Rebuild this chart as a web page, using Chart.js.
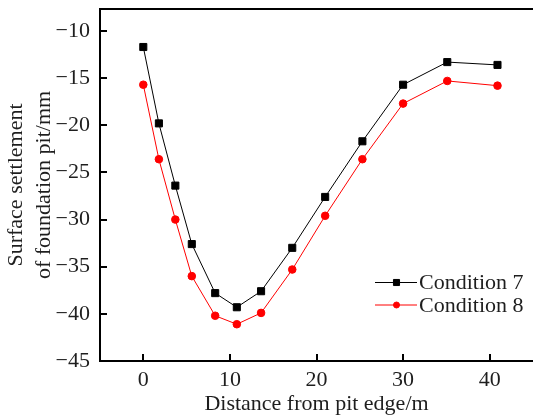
<!DOCTYPE html>
<html>
<head>
<meta charset="utf-8">
<script src="https://cdn.jsdelivr.net/npm/chart.js@4/dist/chart.umd.min.js"></script>
<style>
html,body{margin:0;padding:0;background:#fff;}
#c{display:block;}
</style>
</head>
<body>
<canvas id="c" width="533" height="417"></canvas>
<script>
const distance = [0, 1.8, 3.7, 5.6, 8.3, 10.8, 13.6, 17.2, 21.0, 25.3, 30.0, 35.1, 40.9];
const condition7 = [-11.7, -19.8, -26.4, -32.6, -37.8, -39.3, -37.6, -33.0, -27.6, -21.7, -15.7, -13.3, -13.6];
const condition8 = [-15.7, -23.6, -30.0, -36.0, -40.2, -41.1, -39.9, -35.3, -29.6, -23.6, -17.7, -15.3, -15.8];
const seriesLabels = ['Condition 7', 'Condition 8'];
const xTicks = [0, 10, 20, 30, 40];
const yTicks = [-45, -40, -35, -30, -25, -20, -15, -10];
const xTitle = 'Distance from pit edge/m';
const yTitle = ['Surface settlement', 'of foundation pit/mm'];

const FONT = 'Liberation Serif, Times New Roman, serif';

const framePlugin = {
  id: 'frame',
  afterDraw(chart) {
    const ctx = chart.ctx;
    const a = chart.chartArea;
    const xs = chart.scales.x, ys = chart.scales.y;
    ctx.save();
    ctx.strokeStyle = '#000';
    ctx.lineWidth = 2;
    ctx.beginPath();
    ctx.moveTo(a.left - 1, a.top);
    ctx.lineTo(a.right, a.top);
    ctx.stroke();
    // inward ticks
    ctx.beginPath();
    xs.ticks.forEach(t => {
      const px = Math.round(xs.getPixelForValue(t.value));
      ctx.moveTo(px, a.bottom);
      ctx.lineTo(px, a.bottom - 7);
    });
    ys.ticks.forEach(t => {
      const py = Math.round(ys.getPixelForValue(t.value));
      ctx.moveTo(a.left, py);
      ctx.lineTo(a.left + 7, py);
    });
    ctx.stroke();
    // legend
    const rows = [282.5, 305];
    const legendR = [4.3, 3.0];
    chart.data.datasets.forEach((ds, i) => {
      const y = rows[i];
      ctx.strokeStyle = ds.borderColor;
      ctx.lineWidth = ds.borderWidth;
      ctx.beginPath();
      ctx.moveTo(375, y);
      ctx.lineTo(417, y);
      ctx.stroke();
      ctx.fillStyle = ds.pointBackgroundColor;
      ctx.strokeStyle = ds.pointBorderColor;
      ctx.lineWidth = 1;
      ctx.beginPath();
      const r = legendR[i];
      if (ds.pointStyle === 'rect') {
        const s = r * Math.SQRT1_2;
        ctx.rect(396.5 - s, y - s, 2 * s, 2 * s);
      } else {
        ctx.arc(396.5, y, r, 0, Math.PI * 2);
      }
      ctx.fill();
      ctx.stroke();
      ctx.fillStyle = '#1e1e1e';
      ctx.font = '22px ' + FONT;
      ctx.textAlign = 'left';
      ctx.textBaseline = 'middle';
      ctx.fillText(ds.label, 419, y + 1);
    });
    ctx.restore();
  }
};

const fmt = v => (v < 0 ? '\u2212' + Math.abs(v) : String(v));
const noPad = s => { s.paddingTop = 0; s.paddingBottom = 0; s.paddingLeft = 0; s.paddingRight = 0; };

new Chart(document.getElementById('c'), {
  type: 'line',
  data: {
    datasets: [
      {
        label: seriesLabels[0],
        data: distance.map((d, i) => ({x: d, y: condition7[i]})),
        borderColor: '#000',
        borderWidth: 1,
        pointStyle: 'rect',
        pointRadius: 5.0,
        pointBackgroundColor: '#000',
        pointBorderColor: '#000',
        pointBorderWidth: 1,
        tension: 0
      },
      {
        label: seriesLabels[1],
        data: distance.map((d, i) => ({x: d, y: condition8[i]})),
        borderColor: '#ff0000',
        borderWidth: 1,
        pointStyle: 'circle',
        pointRadius: 3.8,
        pointBackgroundColor: '#ff0000',
        pointBorderColor: '#ff0000',
        pointBorderWidth: 1,
        tension: 0
      }
    ]
  },
  options: {
    responsive: false,
    animation: false,
    devicePixelRatio: 1,
    layout: {autoPadding: false, padding: {top: 9, right: 0, left: 0, bottom: 0}},
    plugins: {legend: {display: false}, tooltip: {enabled: false}},
    scales: {
      x: {
        type: 'linear',
        min: -5, max: 45,
        afterBuildTicks: s => { s.ticks = xTicks.map(v => ({value: v})); },
        afterFit: s => { s.height = 56; noPad(s); },
        grid: {display: false, drawTicks: false},
        border: {display: true, color: '#000', width: 2},
        ticks: {color: '#1e1e1e', font: {family: FONT, size: 22}, padding: 6, callback: v => fmt(v), maxRotation: 0},
        title: {display: true, text: xTitle, color: '#1e1e1e', font: {family: FONT, size: 22}, padding: {top: -1.5, bottom: 0}}
      },
      y: {
        type: 'linear',
        min: -45, max: -7.67,
        afterBuildTicks: s => { s.ticks = yTicks.map(v => ({value: v})); },
        afterFit: s => { s.width = 100; noPad(s); },
        grid: {display: false, drawTicks: false},
        border: {display: true, color: '#000', width: 2},
        ticks: {color: '#1e1e1e', font: {family: FONT, size: 22}, padding: 10, callback: v => fmt(v)},
        title: {display: true, text: yTitle, color: '#1e1e1e', font: {family: FONT, size: 22, lineHeight: 1.27}, padding: {top: 2, bottom: 0}}
      }
    }
  },
  plugins: [framePlugin]
});
</script>
</body>
</html>
